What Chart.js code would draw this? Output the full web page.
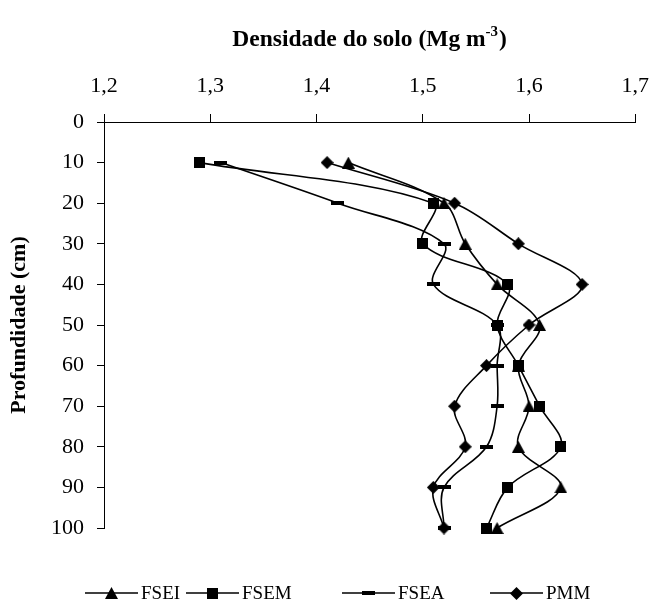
<!DOCTYPE html>
<html>
<head>
<meta charset="utf-8">
<script src="https://cdn.jsdelivr.net/npm/chart.js@4/dist/chart.umd.min.js"></script>
<style>
  html, body { margin: 0; padding: 0; background: #fff; }
  #wrap { width: 664px; height: 610px; }
</style>
</head>
<body>
<div id="wrap"><canvas id="c" width="664" height="610"></canvas></div>
<script>
// Soil depth (cm) and bulk density (Mg m-3) for each land use
const depths = [10, 20, 30, 40, 50, 60, 70, 80, 90, 100];
const fsei = [1.43, 1.52, 1.54, 1.57, 1.61, 1.59, 1.60, 1.59, 1.63, 1.57];
const fsem = [1.29, 1.51, 1.50, 1.58, 1.57, 1.59, 1.61, 1.63, 1.58, 1.56];
const fsea = [1.31, 1.42, 1.52, 1.51, 1.57, 1.57, 1.57, 1.56, 1.52, 1.52];
const pmm  = [1.41, 1.53, 1.59, 1.65, 1.60, 1.56, 1.53, 1.54, 1.51, 1.52];
const seriesNames = ['FSEI', 'FSEM', 'FSEA', 'PMM'];
const densityTicks = [1.2, 1.3, 1.4, 1.5, 1.6, 1.7];

const SERIF = '"Liberation Serif", "Times New Roman", serif';

// Small black marker images used for the points and the legend
function makeMarker(kind) {
  const c = document.createElement('canvas');
  const size = { triangle: [13, 12], square: [11, 11], dash: [13, 4], diamond: [13, 13] }[kind];
  c.width = size[0]; c.height = size[1];
  const g = c.getContext('2d');
  g.fillStyle = '#000';
  const w = size[0], h = size[1];
  g.beginPath();
  if (kind === 'triangle') {
    g.moveTo(w / 2, 0); g.lineTo(w, h); g.lineTo(0, h);
  } else if (kind === 'diamond') {
    g.moveTo(w / 2, 0); g.lineTo(w, h / 2); g.lineTo(w / 2, h); g.lineTo(0, h / 2);
  } else {
    g.rect(0, 0, w, h);
  }
  g.closePath();
  g.fill();
  return c;
}
const markers = [makeMarker('triangle'), makeMarker('square'), makeMarker('dash'), makeMarker('diamond')];

function profile(values) {
  return depths.map((d, i) => ({ x: values[i], y: d }));
}

const datasets = [fsei, fsem, fsea, pmm].map((vals, i) => ({
  label: seriesNames[i],
  data: profile(vals),
  showLine: true,
  borderColor: '#000',
  backgroundColor: '#000',
  borderWidth: 1.6,
  tension: 0.35,
  pointStyle: markers[i],
  pointRadius: 6,
  pointHoverRadius: 6,
  clip: false
}));

// Axis title with a superscript exponent, drawn above the top axis
const topTitle = {
  id: 'topTitle',
  afterDraw(chart) {
    const ctx = chart.ctx;
    const area = chart.chartArea;
    ctx.save();
    ctx.fillStyle = '#000';
    ctx.textBaseline = 'alphabetic';
    const main = 'Densidade do solo (Mg m';
    const sup = '-3';
    const close = ')';
    const big = 'bold 23.5px ' + SERIF, small = 'bold 15px ' + SERIF;
    ctx.font = big;
    const wMain = ctx.measureText(main).width;
    const wClose = ctx.measureText(close).width;
    ctx.font = small;
    const wSup = ctx.measureText(sup).width;
    const total = wMain + wSup + wClose + 1;
    let x = (area.left + area.right) / 2 - total / 2;
    const base = 46;
    ctx.font = big;
    ctx.fillText(main, x, base);
    x += wMain;
    ctx.font = small;
    ctx.fillText(sup, x, base - 10);
    x += wSup + 1;
    ctx.font = big;
    ctx.fillText(close, x, base);
    ctx.restore();
  }
};

// Legend row: a short line with the series marker, followed by its name
const legendSlots = [85, 186, 342, 490];
const lineLegend = {
  id: 'lineLegend',
  afterDraw(chart) {
    const ctx = chart.ctx;
    ctx.save();
    ctx.font = '19px ' + SERIF;
    ctx.fillStyle = '#000';
    ctx.strokeStyle = '#000';
    ctx.lineWidth = 1.5;
    ctx.textBaseline = 'middle';
    const lineLen = 53, gapText = 3;
    const y = 593;
    chart.data.datasets.forEach((ds, i) => {
      const x = legendSlots[i];
      const img = ds.pointStyle;
      ctx.beginPath();
      ctx.moveTo(x, y);
      ctx.lineTo(x + lineLen, y);
      ctx.stroke();
      ctx.drawImage(img, Math.round(x + lineLen / 2 - img.width / 2), Math.round(y - img.height / 2));
      ctx.fillText(ds.label, x + lineLen + gapText, y + 1);
    });
    ctx.restore();
  }
};

new Chart(document.getElementById('c'), {
  type: 'scatter',
  data: { datasets },
  options: {
    responsive: false,
    animation: false,
    events: [],
    layout: { padding: { top: 0, left: 0, right: 18, bottom: 82 } },
    plugins: {
      legend: { display: false },
      tooltip: { enabled: false }
    },
    scales: {
      x: {
        type: 'linear',
        position: 'top',
        min: densityTicks[0],
        max: densityTicks[densityTicks.length - 1],
        afterBuildTicks: s => { s.ticks = densityTicks.map(v => ({ value: v })); },
        ticks: {
          callback: v => v.toFixed(1).replace('.', ','),
          font: { family: SERIF, size: 22 },
          color: '#000',
          padding: 15,
          maxRotation: 0,
          autoSkip: false
        },
        grid: { drawOnChartArea: false, drawTicks: true, tickLength: 8, color: '#000', lineWidth: 1 },
        border: { display: true, color: '#000', width: 1 },
        afterFit: s => { s.height = 122; }
      },
      y: {
        type: 'linear',
        reverse: true,
        min: 0,
        max: 100,
        ticks: {
          stepSize: 10,
          font: { family: SERIF, size: 22 },
          color: '#000',
          padding: 13
        },
        grid: { drawOnChartArea: false, drawTicks: true, tickLength: 7, color: '#000', lineWidth: 1 },
        border: { display: true, color: '#000', width: 1 },
        title: {
          display: true,
          text: 'Profundidade (cm)',
          font: { family: SERIF, size: 22, weight: 'bold' },
          color: '#000',
          padding: { top: 6, bottom: 0 }
        },
        afterFit: s => { s.width = 104; }
      }
    }
  },
  plugins: [topTitle, lineLegend]
});
</script>
</body>
</html>
